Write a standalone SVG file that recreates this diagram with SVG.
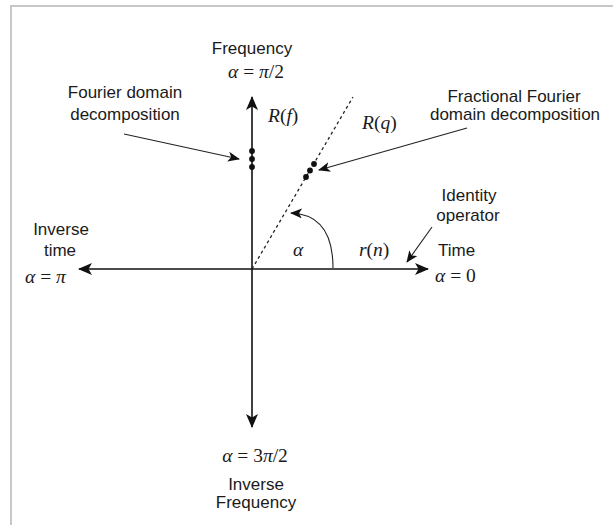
<svg xmlns="http://www.w3.org/2000/svg" width="613" height="525" viewBox="0 0 613 525">
<style>
.lbl{font-family:"Liberation Sans",Arial,sans-serif;font-size:17px;fill:#1a1a1a}
.math{font-family:"Liberation Serif","Times New Roman",serif;font-style:italic;font-size:19.5px;fill:#1a1a1a}
.up{font-style:normal}
.axis{stroke:#111;stroke-width:1.6;fill:none}
.ptr{stroke:#222;stroke-width:1.1;fill:none}
</style>
<defs>
<marker id="ah" markerUnits="userSpaceOnUse" markerWidth="14" markerHeight="12" viewBox="0 0 14 12" refX="13" refY="6" orient="auto">
<path d="M0,0 L14,6 L0,12 L3.5,6 Z" fill="#111"/>
</marker>
<marker id="sh" markerUnits="userSpaceOnUse" markerWidth="12" markerHeight="10" viewBox="0 0 12 10" refX="11" refY="5" orient="auto">
<path d="M0,0 L12,5 L0,10 L3,5 Z" fill="#111"/>
</marker>
</defs>
<rect x="11" y="6" width="620" height="540" fill="#fff" stroke="#c8c8c8" stroke-width="2"/>
<g id="connectors">
<line class="axis" x1="252" y1="269" x2="79" y2="269" marker-end="url(#ah)"/>
<line class="axis" x1="252" y1="269" x2="428" y2="269" marker-end="url(#ah)"/>
<line class="axis" x1="252" y1="269" x2="252" y2="97" marker-end="url(#ah)"/>
<line class="axis" x1="252" y1="269" x2="252" y2="427" marker-end="url(#ah)"/>
<line x1="252" y1="269" x2="353" y2="97" stroke="#222" stroke-width="1.3" stroke-dasharray="3,3"/>
<path class="ptr" d="M333,268 C333,232 318,214 291,213" marker-end="url(#sh)"/>
<line class="ptr" x1="124" y1="134" x2="239" y2="159" marker-end="url(#sh)"/>
<line class="ptr" x1="467" y1="128" x2="319" y2="170" marker-end="url(#sh)"/>
<line class="ptr" x1="432" y1="227" x2="407" y2="262" marker-end="url(#sh)"/>
</g>
<g id="fourier-dots" fill="#111">
<circle cx="252" cy="151" r="2.9"/>
<circle cx="252" cy="159" r="2.9"/>
<circle cx="252" cy="167" r="2.9"/>
</g>
<g id="frac-dots" fill="#111">
<circle cx="314" cy="164" r="2.9"/>
<circle cx="310" cy="170.5" r="2.9"/>
<circle cx="306" cy="177" r="2.9"/>
</g>
<g id="frequency">
<text class="lbl" x="252" y="54" text-anchor="middle">Frequency</text>
<text class="math" x="256" y="78" text-anchor="middle">α <tspan class="up">=</tspan> π<tspan class="up">/2</tspan></text>
</g>
<g id="inverse-frequency">
<text class="math" x="255" y="462" text-anchor="middle">α <tspan class="up">= 3</tspan>π<tspan class="up">/2</tspan></text>
<text class="lbl" x="256" y="490" text-anchor="middle">Inverse</text>
<text class="lbl" x="256" y="508" text-anchor="middle">Frequency</text>
</g>
<g id="time">
<text class="lbl" x="438" y="256">Time</text>
<text class="math" x="435" y="282">α <tspan class="up">= 0</tspan></text>
</g>
<g id="inverse-time">
<text class="lbl" x="61" y="235" text-anchor="middle">Inverse</text>
<text class="lbl" x="60" y="256" text-anchor="middle">time</text>
<text class="math" x="25" y="283">α <tspan class="up">=</tspan> π</text>
</g>
<g id="fourier-domain">
<text class="lbl" x="125" y="98" text-anchor="middle">Fourier domain</text>
<text class="lbl" x="125" y="120" text-anchor="middle">decomposition</text>
</g>
<g id="fractional-domain">
<text class="lbl" x="514" y="102" text-anchor="middle">Fractional Fourier</text>
<text class="lbl" x="515" y="120" text-anchor="middle">domain decomposition</text>
</g>
<g id="identity">
<text class="lbl" x="469" y="201" text-anchor="middle">Identity</text>
<text class="lbl" x="468" y="221" text-anchor="middle">operator</text>
</g>
<g id="labels">
<text class="math" x="268" y="122">R<tspan class="up">(</tspan>f<tspan class="up">)</tspan></text>
<text class="math" x="362" y="129">R<tspan class="up">(</tspan>q<tspan class="up">)</tspan></text>
<text class="math" x="293" y="256">α</text>
<text class="math" x="359" y="256">r<tspan class="up">(</tspan>n<tspan class="up">)</tspan></text>
</g>
</svg>
